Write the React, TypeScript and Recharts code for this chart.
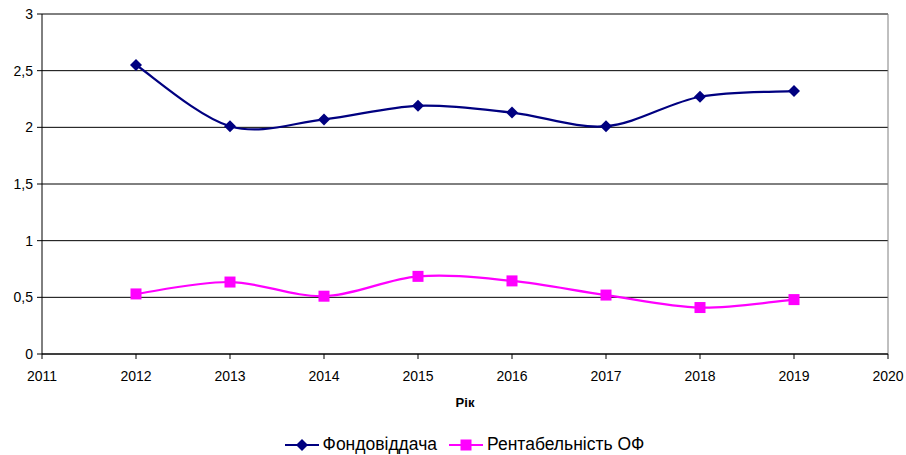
import React from "react";
import {
  LineChart,
  Line,
  XAxis,
  YAxis,
  CartesianGrid,
  Legend,
  ReferenceLine,
} from "recharts";

const years = [2012, 2013, 2014, 2015, 2016, 2017, 2018, 2019];
const fondovid = [2.55, 2.01, 2.07, 2.19, 2.13, 2.01, 2.27, 2.32];
const rentab = [0.53, 0.635, 0.51, 0.685, 0.645, 0.52, 0.41, 0.48];
const xTicks = [2011, 2012, 2013, 2014, 2015, 2016, 2017, 2018, 2019, 2020];
const yTicks = [0, 0.5, 1, 1.5, 2, 2.5, 3];

const NAVY = "#000080";
const MAGENTA = "#FF00FF";
const FONT = "'Liberation Sans', Arial, sans-serif";

const data = years.map((year, i) => ({
  year,
  fondovid: fondovid[i],
  rentab: rentab[i],
}));

// Excel-style smoothed line (Catmull-Rom through every point)
const excelSmooth = (context: any) => {
  let pts: [number, number][] = [];
  return {
    areaStart() {},
    areaEnd() {},
    lineStart() {
      pts = [];
    },
    lineEnd() {
      const n = pts.length;
      if (!n) return;
      context.moveTo(pts[0][0], pts[0][1]);
      for (let i = 0; i < n - 1; i++) {
        const p0 = pts[i - 1] ?? pts[i];
        const p1 = pts[i];
        const p2 = pts[i + 1];
        const p3 = pts[i + 2] ?? p2;
        context.bezierCurveTo(
          p1[0] + (p2[0] - p0[0]) / 6,
          p1[1] + (p2[1] - p0[1]) / 6,
          p2[0] - (p3[0] - p1[0]) / 6,
          p2[1] - (p3[1] - p1[1]) / 6,
          p2[0],
          p2[1]
        );
      }
    },
    point(x: number, y: number) {
      pts.push([x, y]);
    },
  };
};

function Diamond({ cx, cy, r = 6 }: { cx: number; cy: number; r?: number }) {
  return (
    <path
      d={`M${cx},${cy - r}L${cx + r},${cy}L${cx},${cy + r}L${cx - r},${cy}Z`}
      fill={NAVY}
    />
  );
}

function Square({ cx, cy, s = 11 }: { cx: number; cy: number; s?: number }) {
  return <rect x={cx - s / 2} y={cy - s / 2} width={s} height={s} fill={MAGENTA} />;
}

const legendItems = [
  { label: "Фондовіддача", color: NAVY, marker: "diamond" },
  { label: "Рентабельність ОФ", color: MAGENTA, marker: "square" },
];

function ChartLegend() {
  return (
    <div
      style={{
        display: "flex",
        justifyContent: "center",
        alignItems: "center",
        gap: 12,
        fontFamily: FONT,
        fontSize: 17.5,
        color: "#000",
      }}
    >
      {legendItems.map((item) => (
        <div key={item.label} style={{ display: "flex", alignItems: "center", gap: 4 }}>
          <svg width={34} height={14}>
            <line x1={0} y1={7} x2={34} y2={7} stroke={item.color} strokeWidth={2} />
            {item.marker === "diamond" ? (
              <Diamond cx={17} cy={7} />
            ) : (
              <Square cx={17} cy={7} />
            )}
          </svg>
          <span>{item.label}</span>
        </div>
      ))}
    </div>
  );
}

export default function App() {
  return (
    <div style={{ position: "absolute", left: 0, top: 0, fontFamily: FONT }}>
      <LineChart
        width={906}
        height={455}
        data={data}
        margin={{ top: 14, right: 18, bottom: 71, left: 0 }}
      >
        <CartesianGrid vertical={false} stroke="#000" strokeOpacity={1} />
        <XAxis
          dataKey="year"
          type="number"
          domain={[2011, 2020]}
          ticks={xTicks}
          interval={0}
          height={30}
          stroke="#000"
          tickSize={5}
          tickMargin={12}
          tick={{ fill: "#000", fontSize: 14, fontFamily: FONT }}
          label={{
            value: "Рік",
            position: "bottom",
            offset: 14,
            style: { fill: "#000", fontSize: 13, fontWeight: "bold", fontFamily: FONT },
          }}
        />
        <YAxis
          type="number"
          domain={[0, 3]}
          ticks={yTicks}
          width={42}
          stroke="#000"
          tickSize={5}
          tickMargin={4}
          tickFormatter={(v: number) => String(v).replace(".", ",")}
          tick={{ fill: "#000", fontSize: 14, fontFamily: FONT }}
        />
        <ReferenceLine y={3} stroke="#808080" />
        <ReferenceLine x={2020} stroke="#808080" />
        <Line
          dataKey="fondovid"
          name="Фондовіддача"
          type={excelSmooth as any}
          stroke={NAVY}
          strokeWidth={2.2}
          dot={(p: any) => <Diamond key={`d${p.index}`} cx={p.cx} cy={p.cy} />}
          activeDot={false}
          isAnimationActive={false}
        />
        <Line
          dataKey="rentab"
          name="Рентабельність ОФ"
          type={excelSmooth as any}
          stroke={MAGENTA}
          strokeWidth={2.2}
          dot={(p: any) => <Square key={`s${p.index}`} cx={p.cx} cy={p.cy} />}
          activeDot={false}
          isAnimationActive={false}
        />
        <Legend
          layout="horizontal"
          verticalAlign="middle"
          align="center"
          wrapperStyle={{ top: 434, left: 23, width: 883 }}
          content={() => <ChartLegend />}
        />
      </LineChart>
    </div>
  );
}
